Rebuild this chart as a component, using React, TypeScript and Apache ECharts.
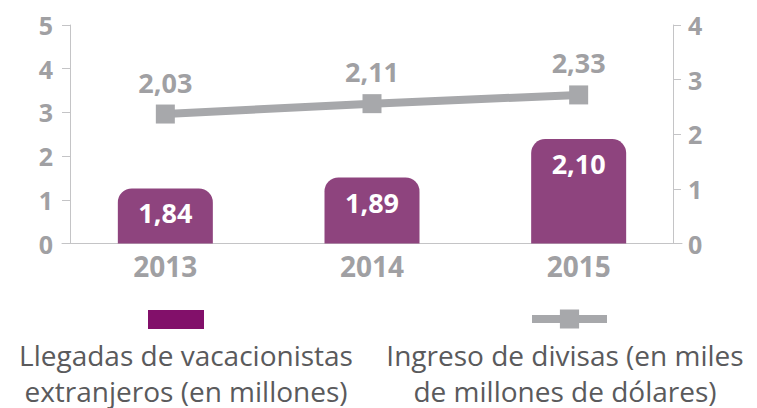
import React, { useEffect, useRef } from "react";
import * as echarts from "echarts";

const categories = ["2013", "2014", "2015"];
// Bar heights as drawn (left axis scale) and their printed labels
const barValues = [1.26, 1.51, 2.39];
const barLabels = ["1,84", "1,89", "2,10"];
// Line points as drawn (right axis scale) and their printed labels
const lineValues = [2.37, 2.56, 2.72];
const lineLabels = ["2,03", "2,11", "2,33"];
const leftTicks = [0, 5, 1];
const rightTicks = [0, 4, 1];
const barName = "Llegadas de vacacionistas extranjeros (en millones)";
const lineName = "Ingreso de divisas (en miles de millones de dólares)";
const barLegendLines = ["Llegadas de vacacionistas", "extranjeros (en millones)"];
const lineLegendLines = ["Ingreso de divisas (en miles", "de millones de dólares)"];

const FONT = "'Open Sans', 'Noto Sans', sans-serif";
const AXIS_GRAY = "#a0a0a3";
const LINE_GRAY = "#a7a8ab";
const AXIS_LINE = "#c4c4c6";

export default function App() {
  const ref = useRef<HTMLDivElement>(null);
  useEffect(() => {
    if (!ref.current) return;
    const chart = echarts.init(ref.current, null, { renderer: "svg" });
    const legendText = (text: string, x: number, y: number, size: number) => ({
      type: "text",
      x,
      y,
      style: {
        text,
        textAlign: "center",
        textVerticalAlign: "middle",
        fill: "#5a5a5c",
        fontFamily: FONT,
        fontSize: size,
      },
    });
    chart.setOption({
      animation: false,
      grid: { left: 62, right: 75, top: 25, bottom: 408 - 243.5 },
      xAxis: {
        type: "category",
        data: categories,
        axisLine: { lineStyle: { color: AXIS_LINE, width: 1 } },
        axisTick: { show: false },
        axisLabel: {
          color: AXIS_GRAY,
          fontFamily: FONT,
          fontWeight: 700,
          fontSize: 28,
          margin: 8,
        },
      },
      yAxis: [
        {
          type: "value",
          min: leftTicks[0],
          max: leftTicks[1],
          interval: leftTicks[2],
          offset: -8,
          splitLine: { show: false },
          axisLine: { show: true, lineStyle: { color: AXIS_LINE, width: 1 } },
          axisTick: { show: true, length: 8, lineStyle: { color: AXIS_LINE } },
          axisLabel: {
            color: AXIS_GRAY,
            fontFamily: FONT,
            fontWeight: 700,
            fontSize: 25,
            margin: 17,
          },
        },
        {
          type: "value",
          min: rightTicks[0],
          max: rightTicks[1],
          interval: rightTicks[2],
          offset: -9,
          position: "right",
          splitLine: { show: false },
          axisLine: { show: true, lineStyle: { color: AXIS_LINE, width: 1 } },
          axisTick: { show: true, length: 8, lineStyle: { color: AXIS_LINE } },
          axisLabel: {
            color: AXIS_GRAY,
            fontFamily: FONT,
            fontWeight: 700,
            fontSize: 25,
            margin: 15,
          },
        },
      ],
      legend: [
        {
          data: [{ name: barName, itemStyle: { color: "#82106a" } }],
          left: 148,
          top: 310,
          padding: 0,
          itemWidth: 56,
          itemHeight: 19,
          icon: "rect",
          selectedMode: false,
          formatter: () => "",
        },
        {
          data: [lineName],
          left: 528,
          top: 307,
          padding: 0,
          itemWidth: 75,
          itemHeight: 24,
          selectedMode: false,
          lineStyle: { width: 8, color: LINE_GRAY },
          itemStyle: { color: LINE_GRAY },
          formatter: () => "",
        },
      ],
      graphic: [
        legendText(barLegendLines[0], 186, 354.5, 28),
        legendText(barLegendLines[1], 186, 390.5, 28),
        legendText(lineLegendLines[0], 565, 354.5, 28),
        legendText(lineLegendLines[1], 565, 390.5, 28),
      ],
      series: [
        {
          name: barName,
          type: "bar",
          yAxisIndex: 0,
          data: barValues,
          barWidth: 95,
          itemStyle: { color: "#8e447e", borderRadius: [14, 14, 0, 0] },
          label: {
            show: true,
            position: "insideTop",
            distance: 11,
            color: "#ffffff",
            fontFamily: FONT,
            fontWeight: 700,
            fontSize: 27,
            formatter: (p: any) => barLabels[p.dataIndex],
          },
        },
        {
          name: lineName,
          type: "line",
          yAxisIndex: 1,
          data: lineValues,
          symbol: "rect",
          symbolSize: 19,
          lineStyle: { color: LINE_GRAY, width: 8 },
          itemStyle: { color: LINE_GRAY },
          label: {
            show: true,
            position: "top",
            distance: 9,
            color: AXIS_GRAY,
            fontFamily: FONT,
            fontWeight: 700,
            fontSize: 27,
            formatter: (p: any) => lineLabels[p.dataIndex],
          },
        },
      ],
    });
    return () => chart.dispose();
  }, []);
  return (
    <div
      ref={ref}
      style={{ position: "absolute", left: 0, top: 0, width: 757, height: 408 }}
    />
  );
}
